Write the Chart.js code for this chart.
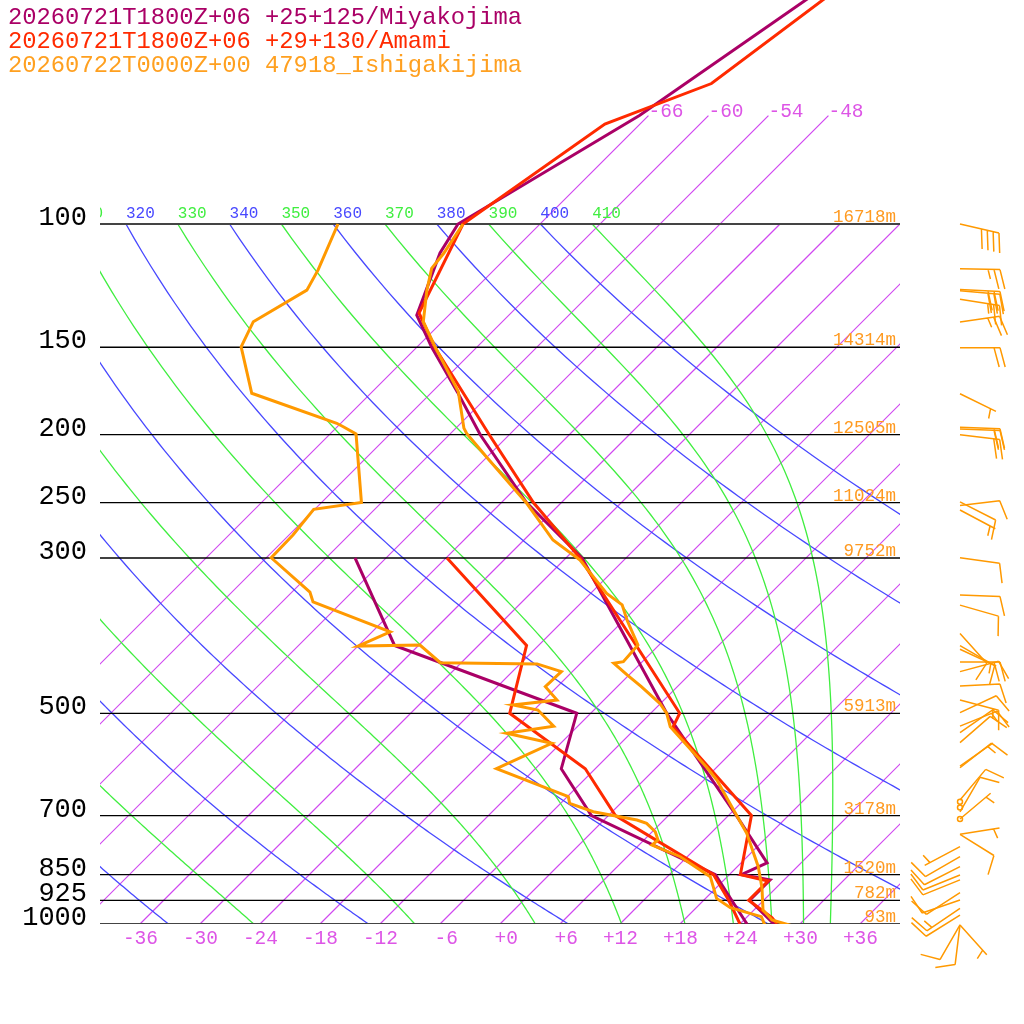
<!DOCTYPE html>
<html><head><meta charset="utf-8">
<script src="https://cdn.jsdelivr.net/npm/chart.js@4.4.1/dist/chart.umd.min.js"></script>
<style>html,body{margin:0;padding:0;background:#fff;}#wrap{width:1024px;height:1024px;}</style>
</head><body><div id="wrap"><canvas id="c" width="1024" height="1024"></canvas></div>
<script>
// ---------- data ----------
const legendLines = ['20260721T1800Z+06 +25+125/Miyakojima','20260721T1800Z+06 +29+130/Amami','20260722T0000Z+00 47918_Ishigakijima'];
const pressureLevels = [1000, 925, 850, 700, 500, 300, 250, 200, 150, 100];
const pressureLabels = ['1000','925','850','700','500','300','250','200','150','100'];
const heightLabels = ['93m','782m','1520m','3178m','5913m','9752m','11024m','12505m','14314m','16718m'];
const isotherms = [-66,-60,-54,-48,-42,-36,-30,-24,-18,-12,-6,0,6,12,18,24,30,36];
const bottomTickTemps = [-36,-30,-24,-18,-12,-6,0,6,12,18,24,30,36];
const bottomTickLabels = ['-36','-30','-24','-18','-12','-6','+0','+6','+12','+18','+24','+30','+36'];
const dryThetas = [240,260,280,300,320,340,360,380,400];
const moistThetas = [250,270,290,310,330,350,370,390,410];

// Miyakojima (purple)
const miyakoTempP = [45,70,100,110,135,150,174,200,250,300,500,700,818,850,865,925,1000];
const miyakoTemp  = [-61.0,-66.9,-74.2,-73.1,-69.2,-64.5,-57.4,-50.9,-39.5,-28.4,-4.4,12.8,20.6,19.2,22.6,22.6,27.4];
const miyakoDewP  = [300,400,500,600,700,850,925,1000];
const miyakoDew   = [-51.1,-38.4,-13.4,-9.4,-1.7,16.6,20.8,24.7];
// Amami (red)
const amamiTempP = [45,63,72,100,134,150,200,250,300,500,523,700,850,868,925,980,1000];
const amamiTemp  = [-59.5,-62.9,-69.5,-73.7,-69.2,-64.2,-50.0,-38.8,-28.6,-3.1,-2.4,14.3,19.1,22.5,22.5,26.6,27.7];
const amamiDewP  = [300,400,500,600,700,850,925,1000];
const amamiDew   = [-41.9,-25.2,-20.1,-7.0,0.7,16.4,20.5,24.0];
// Ishigakijima (orange)
const ishiTempP = [100,110.1,115.7,124.3,137.9,149.8,173.6,195.7,199.1,215,250.6,282.8,302,337,350,367.9,399.5,421.9,424.1,440.7,458.1,483.8,500,522.6,596.3,622.9,665.1,742,828.3,888.4,955,987,1006];
const ishiTemp  = [-73.7,-72.7,-72.4,-70.7,-67.9,-64.2,-57.4,-53.2,-52.4,-48.1,-39.4,-33.1,-28.4,-22.4,-19.7,-17.7,-14.1,-13.9,-14.7,-12.2,-9.6,-6.1,-4.4,-2.7,4.9,7.3,10.4,15.6,20.1,22.6,24.9,26.8,29.4];
const ishiDewP = [100,116.3,124.3,137.9,149.8,174.5,192.6,194.8,199.5,250,255.6,278.2,299.8,335.6,346.7,382.4,400.8,399.5,423.3,425.1,436,458.1,478.6,486.6,494.7,521.9,534.1,551.9,599.7,657.9,672.4,691.2,710.4,718.2,738.2,758.6,771.2,801.5,855.9,919.2,947.8,976.2,1006];
const ishiDew  = [-86.2,-83.6,-82.7,-84.9,-83.6,-77.9,-66.4,-65.4,-63.4,-56.0,-60.1,-59.6,-59.5,-52.2,-50.9,-40.2,-42.0,-35.9,-32.1,-22.3,-19.1,-19.2,-16.7,-20.6,-17.6,-14.4,-18.4,-12.9,-15.9,-5.9,-5.1,-1.9,3.3,4.6,6.3,7.4,7.3,11.3,16.3,19.1,21.4,25.4,26.7];
// Ishigakijima winds (pressure hPa, direction deg, speed kt)
const windP   = [100,115.9,124.0,124.6,128.1,138.0,150.2,174.8,195.2,196.3,200,249.4,252.5,256.2,299.8,338.9,350.3,384.5,400.3,405,422.4,436,457.1,478.6,499,521.5,533,550.7,594.9,598.1,665.1,668.8,681.4,691.8,707.9,708,744.5,744.5,775.4,801,828,851,865,902,924,950,971,1003,1003,1003];
const windDir = [103,91,93,95,99,82,90,116,92,92,97,117,83,118,98,92,106,138,120,115,90,75,87,105,65,68,55,49,55,52,40,0,0,30,50,0,81,122,242,240,243,248,248,237,251,236,238,210,187,138];
const windSpd = [40,25,30,30,25,25,20,5,20,20,20,10,10,5,10,10,10,10,10,5,20,10,10,15,10,15,10,10,5,10,10,0,0,10,5,0,5,10,5,10,10,10,10,10,10,15,10,10,10,5];

// ---------- geometry helpers ----------
const SKEW = 70;           // degC of horizontal shift per decade of pressure
const PTOP = 1000*Math.pow(10,-924/700);
const xOf = (T,p) => T + SKEW*Math.log10(1000/p);
const pts = (P,T) => P.map((p,i)=>({x:xOf(T[i],p), y:p}));

const FONT = '"Liberation Mono","DejaVu Sans Mono",monospace';
const C_PURPLE = '#aa0066', C_RED = '#ff2a00', C_ORANGE = '#ff9900';
const C_ISO = 'rgb(208,72,240)', C_ISO_TXT = 'rgb(221,85,230)';
const C_DRY = 'rgb(72,72,255)', C_MOIST = 'rgb(64,238,64)';

function esat(Tc){return 6.112*Math.exp(17.67*Tc/(Tc+243.5));}
function dTdp(p,T){const es=esat(T-273.15);const rs=0.622*es/(p-es);
  return (287.04*T+2.501e6*rs)/(p*(1005.7+2.501e6*2.501e6*rs*0.622/(287.04*T*T)));}
function moistCurve(theta){
  let T=theta*Math.pow(0.1,0.2857); const out=[[100,T-273.15]];
  const dp=1;
  for(let i=0;i<900;i++){const p=100+i*dp;
    const k1=dTdp(p,T),k2=dTdp(p+dp/2,T+k1*dp/2),k3=dTdp(p+dp/2,T+k2*dp/2),k4=dTdp(p+dp,T+k3*dp);
    T+=dp*(k1+2*k2+2*k3+k4)/6; if((i+1)%5===0) out.push([p+dp,T-273.15]);}
  return out;
}

function drawBarb(ctx,x0,y0,dir,spd){
  if(spd<2.5){ctx.beginPath();ctx.arc(x0,y0,2.5,0,2*Math.PI);ctx.stroke();return;}
  const th=(dir-90)*Math.PI/180, ux=Math.cos(th), uy=Math.sin(th);
  const L=40, FULL=20, HALF=10, GAP=6;
  const tx=x0+L*ux, ty=y0+L*uy;
  ctx.beginPath();ctx.moveTo(x0,y0);ctx.lineTo(tx,ty);
  const fa=th+75*Math.PI/180, fx=Math.cos(fa), fy=Math.sin(fa);
  const s=Math.round(spd/5)*5; const nF=Math.floor(s/10), nH=(s%10)>=5?1:0;
  let pos=0;
  for(let i=0;i<nF;i++){const bx=tx-pos*ux, by=ty-pos*uy;ctx.moveTo(bx,by);ctx.lineTo(bx+FULL*fx,by+FULL*fy);pos+=GAP;}
  if(nH){if(nF===0)pos=GAP;const bx=tx-pos*ux, by=ty-pos*uy;ctx.moveTo(bx,by);ctx.lineTo(bx+HALF*fx,by+HALF*fy);}
  ctx.stroke();
}

const skewPlugin = {
  id:'skewt',
  beforeDatasetsDraw(chart){
    const {ctx, chartArea:a, scales:{x:xs,y:ys}} = chart;
    const px=(T,p)=>xs.getPixelForValue(xOf(T,p)), py=p=>ys.getPixelForValue(p);
    ctx.save();
    ctx.beginPath();ctx.rect(a.left,a.top,a.right-a.left,a.bottom-a.top);ctx.clip();
    ctx.globalAlpha=1;ctx.globalCompositeOperation='source-over';ctx.setLineDash([]);
    // isotherms
    ctx.lineWidth=1.2;ctx.strokeStyle=C_ISO;
    isotherms.forEach(T=>{const top=T<=-48?70:100;ctx.beginPath();ctx.strokeStyle=C_ISO;ctx.moveTo(px(T,1000),py(1000));ctx.lineTo(px(T,top),py(top));ctx.stroke();});
    ctx.fillStyle=C_ISO_TXT;ctx.font='19.5px '+FONT;ctx.textAlign='left';ctx.textBaseline='alphabetic';
    isotherms.filter(T=>T<=-48).forEach(T=>ctx.fillText(String(T),px(T,70),py(70)+1));
    // dry adiabats
    ctx.lineWidth=1.3;
    dryThetas.forEach(th=>{ctx.beginPath();ctx.strokeStyle=C_DRY;for(let p=100;p<=1000;p+=5){const T=th*Math.pow(p/1000,0.2857)-273.15;const X=px(T,p),Y=py(p);p===100?ctx.moveTo(X,Y):ctx.lineTo(X,Y);}ctx.stroke();});
    // moist adiabats
    moistThetas.forEach(th=>{const c=moistCurve(th);ctx.beginPath();ctx.strokeStyle=C_MOIST;c.forEach(([p,T],i)=>{const X=px(T,p),Y=py(p);i?ctx.lineTo(X,Y):ctx.moveTo(X,Y);});ctx.stroke();});
    // theta labels
    ctx.font='16px '+FONT;
    const labs=dryThetas.map(t=>[t,C_DRY]).concat(moistThetas.map(t=>[t,C_MOIST]));
    labs.forEach(([th,col])=>{const T=th*Math.pow(0.1,0.2857)-273.15;ctx.fillStyle=col;ctx.fillText(String(th),px(T,100),py(100)-6);});
    // pressure lines
    pressureLevels.forEach(p=>{ctx.strokeStyle=(p===1000||p===100)?'#444':'#000';ctx.lineWidth=(p===1000||p===100)?2:1.3;
      ctx.beginPath();ctx.moveTo(a.left,py(p));ctx.lineTo(a.right,py(p));ctx.stroke();});
    // heights
    ctx.fillStyle='#ff9a20';ctx.font='17.5px '+FONT;ctx.textAlign='right';
    pressureLevels.forEach((p,i)=>ctx.fillText(heightLabels[i],896,py(p)-2));
    ctx.restore();
  },
  afterDraw(chart){
    const {ctx, scales:{x:xs,y:ys}} = chart;
    const px=(T,p)=>xs.getPixelForValue(xOf(T,p)), py=p=>ys.getPixelForValue(p);
    ctx.save();
    // pressure labels
    ctx.fillStyle='#000';ctx.font='27px '+FONT;ctx.textAlign='right';ctx.textBaseline='alphabetic';
    pressureLevels.forEach((p,i)=>ctx.fillText(pressureLabels[i],87,py(p)+1));
    // bottom temperature labels
    ctx.fillStyle=C_ISO_TXT;ctx.font='19.5px '+FONT;
    bottomTickTemps.forEach((T,i)=>ctx.fillText(bottomTickLabels[i],px(T,1000)+18,944));
    // legend
    ctx.font='23.8px '+FONT;ctx.textAlign='left';
    [C_PURPLE,C_RED,'#ffa020'].forEach((c,i)=>{ctx.fillStyle=c;ctx.fillText(legendLines[i],8,24+i*24);});
    // wind barbs
    ctx.strokeStyle=C_ORANGE;ctx.lineWidth=1.5;
    windP.forEach((p,i)=>drawBarb(ctx,960,py(p),windDir[i],windSpd[i]));
    ctx.restore();
  }
};

function ds(P,T,color,order){return {data:pts(P,T),showLine:true,borderColor:color,backgroundColor:color,borderWidth:3,pointRadius:0,fill:false,tension:0,order:order};}

new Chart(document.getElementById('c'),{
  type:'scatter',
  data:{datasets:[
    ds(ishiTempP,ishiTemp,C_ORANGE,0),
    ds(ishiDewP,ishiDew,C_ORANGE,0),
    ds(amamiTempP,amamiTemp,C_RED,1),
    ds(amamiDewP,amamiDew,C_RED,1),
    ds(miyakoTempP,miyakoTemp,C_PURPLE,2),
    ds(miyakoDewP,miyakoDew,C_PURPLE,2)
  ]},
  options:{
    responsive:false,animation:false,devicePixelRatio:1,
    layout:{padding:{left:100,right:124,top:0,bottom:100}},
    plugins:{legend:{display:false},tooltip:{enabled:false}},
    scales:{
      x:{type:'linear',min:-40,max:40,bounds:'data',display:false},
      y:{type:'logarithmic',min:PTOP,max:1000,reverse:true,bounds:'data',display:false}
    }
  },
  plugins:[skewPlugin]
});
</script></body></html>
